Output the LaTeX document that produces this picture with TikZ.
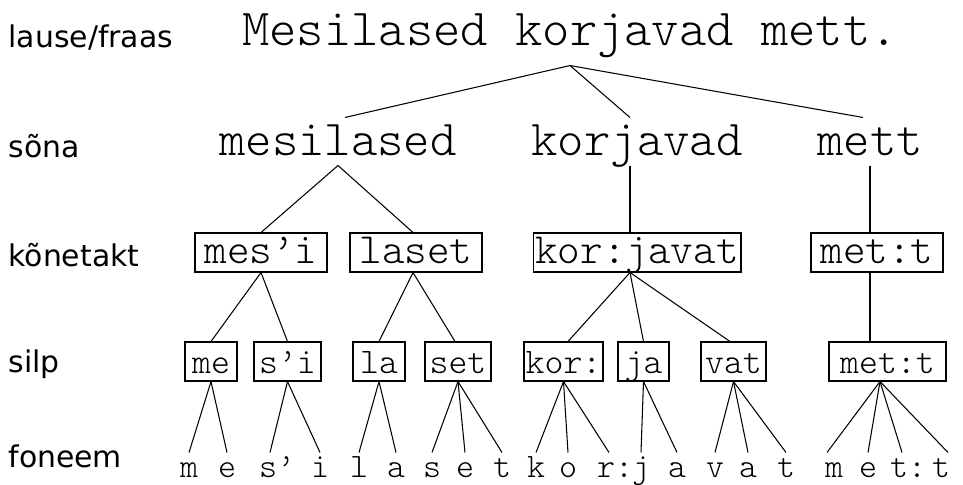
\documentclass[tikz,border=0pt]{standalone}
\usepackage{fontspec}
\newfontfamily\lblfont{DejaVu Sans}
\newfontfamily\tyfont{Latin Modern Mono Light}

\begin{document}
\begin{tikzpicture}[x=0.02cm,y=-0.02cm,line width=0.6pt,
  lbl/.style={anchor=base west,inner sep=0,font=\lblfont\fontsize{17}{20}\selectfont},
  lause/.style={anchor=base,inner xsep=0,inner ysep=4mm,text depth=0pt,font=\tyfont\fontsize{29.6}{32}\selectfont},
  sona/.style={anchor=base,inner xsep=0,inner ysep=2mm,text height=5.4mm,text depth=0pt,font=\tyfont\fontsize{28.6}{32}\selectfont},
  takt/.style={draw,inner xsep=0,inner ysep=1.8mm,text height=4.2mm,text depth=0pt,minimum height=7.8mm,font=\tyfont\fontsize{24.5}{28}\selectfont},
  silp/.style={draw,inner xsep=0,inner ysep=1.6mm,text height=4.6mm,text depth=0pt,minimum height=7.8mm,font=\tyfont\fontsize{20.5}{24}\selectfont},
  fon/.style={anchor=base,inner xsep=0,inner ysep=1mm,text height=3.8mm,text depth=0pt,font=\tyfont\fontsize{19.5}{22}\selectfont}]
\useasboundingbox (0,0) rectangle (963,484);

\node[lbl] (l1) at (8,47) {lause/fraas};
\node[lbl] (l2) at (8,157) {sõna};
\node[lbl] (l3) at (8,266) {kõnetakt};
\node[lbl] (l4) at (8,372) {silp};
\node[lbl] (l5) at (8,467) {foneem};

\node[lause] (lause) at (570,45) {Mesilased korjavad mett.};

\node[sona] (mesilased) at (338,155) {mesilased};
\node[sona] (korjavad) at (637,155) {korjavad};
\node[sona] (mett) at (870,155) {mett};

\node[takt,minimum width=26.4mm] (tmesi) at (261,252.5) {mes’i};
\node[takt,minimum width=26.4mm] (tlaset) at (416,252.5) {laset};
\node[takt,minimum width=41.6mm] (tkorjavat) at (637,252.5) {kor:javat};
\node[takt,minimum width=26.4mm] (tmett) at (877,252.5) {met:t};

\node[silp,minimum width=10.4mm] (sme) at (211,361.5) {me};
\node[silp,minimum width=13.4mm] (ssi) at (287.5,361.5) {s’i};
\node[silp,minimum width=10.4mm] (sla) at (379,361.5) {la};
\node[silp,minimum width=13.2mm] (sset) at (458,361.5) {set};
\node[silp,minimum width=15.8mm] (skor) at (563.5,361.5) {kor:};
\node[silp,minimum width=10.2mm] (sja) at (643.5,361.5) {ja};
\node[silp,minimum width=13mm] (svat) at (733.5,361.5) {vat};
\node[silp,minimum width=23.4mm] (smett) at (887.5,361.5) {met:t};

\foreach \x/\t/\n in {189/m/f1,227/e/f2,277/s’/f3,320/i/f4,359/l/f5,396/a/f6,432/s/f7,
  465/e/f8,502/t/f9,536/k/f10,568/o/f11,615/r:/f12,641/j/f13,677/a/f14,715/v/f15,
  748/a/f16,786/t/f17,834/m/f18,868/e/f19,908/t:/f20,941/t/f21}
  \node[fon] (\n) at (\x,477) {\t};

\draw (lause.south) -- ([xshift=1.4mm]mesilased.north);
\draw (lause.south) -- ([xshift=-1.4mm]korjavad.north);
\draw (lause.south) -- ([xshift=-1.4mm]mett.north);

\draw (mesilased.south) -- (tmesi.north);
\draw (mesilased.south) -- ([xshift=-0.6mm]tlaset.north);
\draw ([xshift=-1.4mm]korjavad.south) -- ([xshift=-1.4mm]tkorjavat.north);
\draw (mett.south) -- (mett.south |- tmett.north);

\draw (tmesi.south) -- (sme.north);
\draw (tmesi.south) -- (ssi.north);
\draw ([xshift=-0.6mm]tlaset.south) -- (sla.north);
\draw ([xshift=-0.6mm]tlaset.south) -- ([xshift=-0.6mm]sset.north);
\draw ([xshift=-1.4mm]tkorjavat.south) -- ([xshift=0.9mm]skor.north);
\draw ([xshift=-1.4mm]tkorjavat.south) -- (sja.north);
\draw ([xshift=-1.4mm]tkorjavat.south) -- ([xshift=-0.7mm]svat.north);
\draw (mett.south |- tmett.south) -- (mett.south |- smett.north);

\draw (sme.south) -- (f1.north);
\draw (sme.south) -- (f2.north);
\draw (ssi.south) -- ([xshift=-1.4mm]f3.north);
\draw (ssi.south) -- (f4.north);
\draw (sla.south) -- (f5.north);
\draw (sla.south) -- (f6.north);
\draw (sset.south) -- (f7.north);
\draw (sset.south) -- (f8.north);
\draw (sset.south) -- (f9.north);
\draw (skor.south) -- (f10.north);
\draw (skor.south) -- (f11.north);
\draw (skor.south) -- ([xshift=-1.2mm]f12.north);
\draw (sja.south) -- (f13.north);
\draw (sja.south) -- (f14.north);
\draw (svat.south) -- (f15.north);
\draw (svat.south) -- (f16.north);
\draw (svat.south) -- (f17.north);
\draw ([xshift=-1.5mm]smett.south) -- ([xshift=-1.4mm]f18.north);
\draw ([xshift=-1.5mm]smett.south) -- (f19.north);
\draw ([xshift=-1.5mm]smett.south) -- ([xshift=-1.2mm]f20.north);
\draw ([xshift=-1.5mm]smett.south) -- ([xshift=1.4mm]f21.north);
\end{tikzpicture}
\end{document}
